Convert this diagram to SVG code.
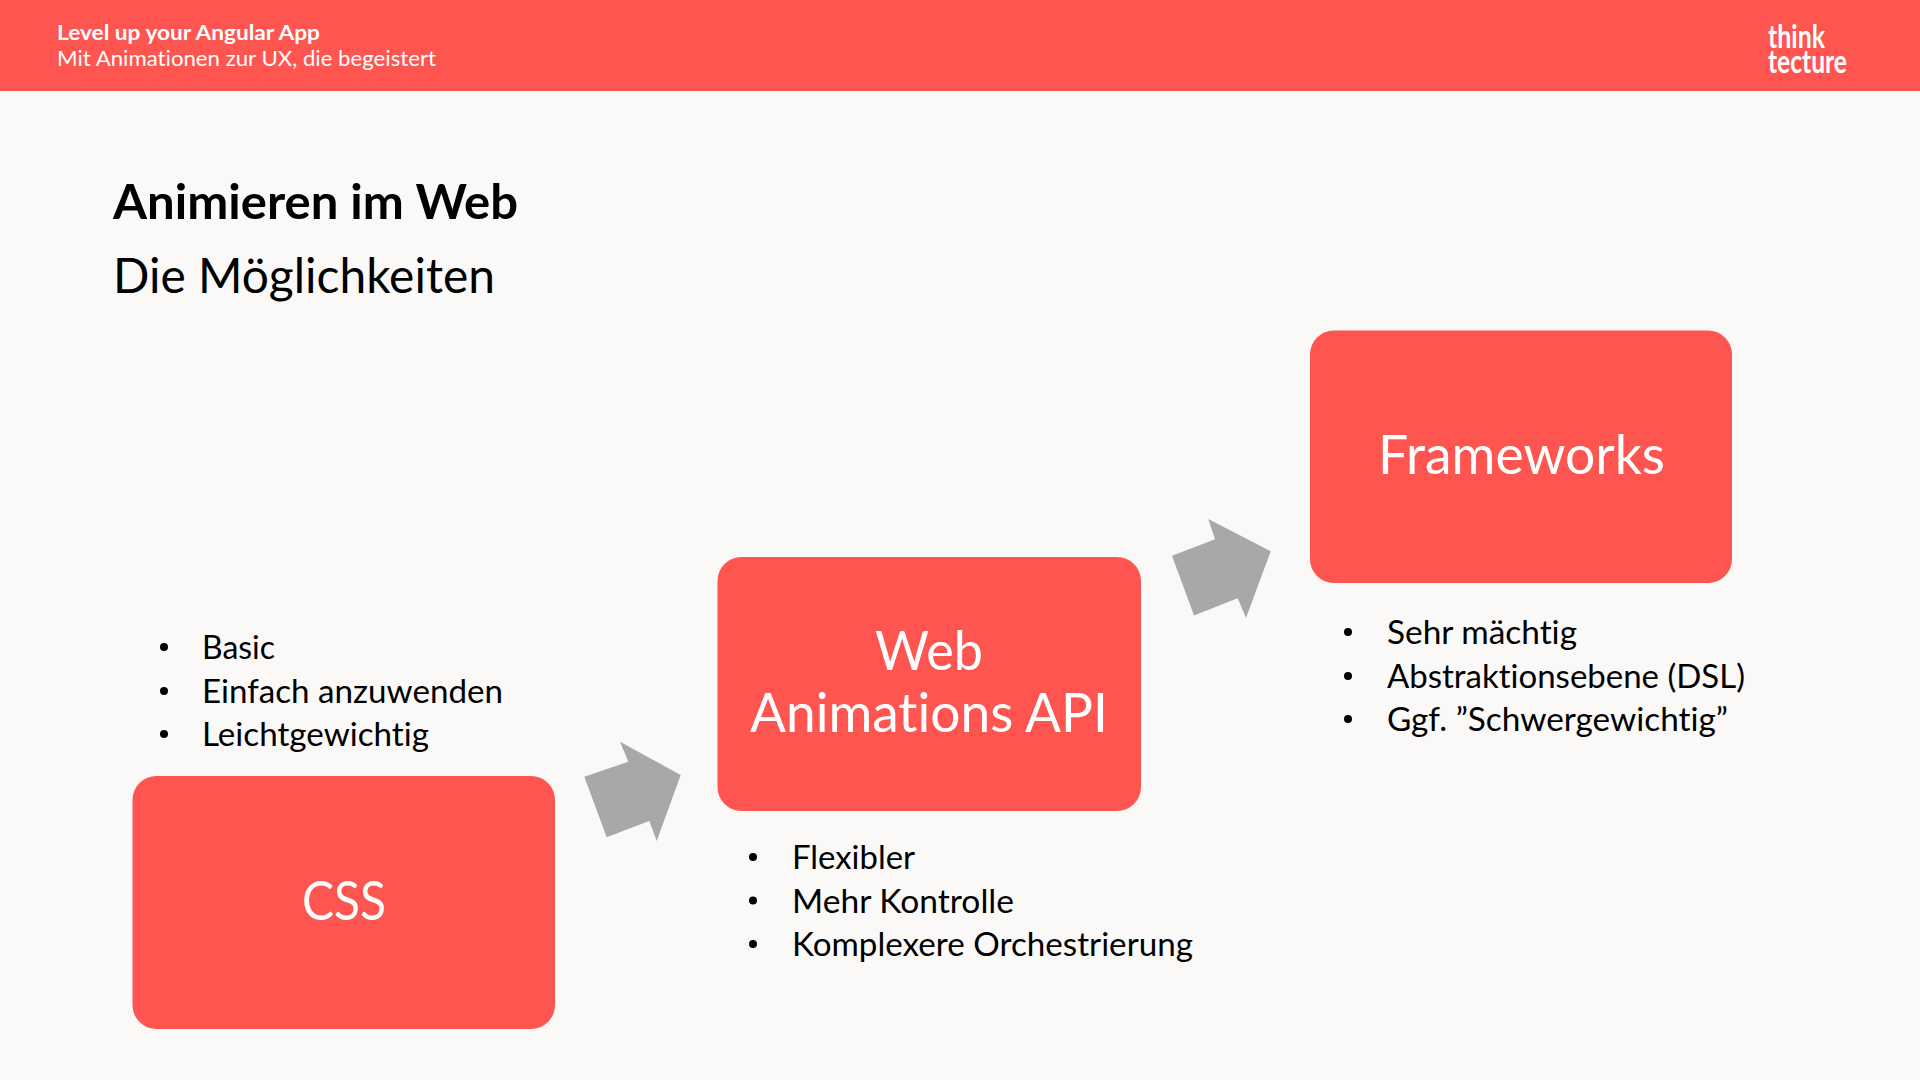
<svg xmlns="http://www.w3.org/2000/svg" width="1920" height="1080" viewBox="0 0 1920 1080">
<style>
text{font-family:"Lato","Open Sans","Liberation Sans",sans-serif;font-variant-ligatures:none}
.box{fill:#ff5550}
.arrow{fill:#a8a8a8}
.label{fill:#fff;font-size:54px;text-anchor:middle}
.item{fill:#000;font-size:32px}
.logo{fill:#fff;font-size:32px;font-weight:700}
</style>
<rect width="1920" height="1080" fill="#faf9f7"/>
<rect width="1920" height="91" fill="#ff5550"/>
<text x="57" y="40" fill="#fff" font-size="21.5" font-weight="700" textLength="263" lengthAdjust="spacingAndGlyphs">Level up your Angular App</text>
<text x="57" y="66" fill="#fff" font-size="21.5" textLength="379" lengthAdjust="spacingAndGlyphs">Mit Animationen zur UX, die begeistert</text>
<text x="1768" y="48" class="logo" textLength="57" lengthAdjust="spacingAndGlyphs">think</text>
<text x="1768" y="73" class="logo" textLength="79" lengthAdjust="spacingAndGlyphs">tecture</text>
<text x="113" y="219" fill="#000" font-size="48" font-weight="700" textLength="405" lengthAdjust="spacingAndGlyphs">Animieren im Web</text>
<text x="113" y="293" fill="#000" font-size="48" textLength="382" lengthAdjust="spacingAndGlyphs">Die Möglichkeiten</text>
<g id="connectors">
<polygon class="arrow" points="584.3,776.7 628.3,761.7 620,741.7 680.7,775 656.7,841 649.3,821 606.7,837.200"/>
<polygon class="arrow" points="1172,555.7 1215,539.3 1208.3,519 1270.7,551.3 1246,618 1237.7,598.3 1194,615.500"/>
</g>
<g id="node-css">
<rect class="box" x="132.500" y="776" width="422.500" height="253" rx="24"/>
<text class="label" x="344" y="919.500" textLength="84" lengthAdjust="spacingAndGlyphs">CSS</text>
<g class="item">
<circle cx="164" cy="647" r="4"/><text x="202" y="659" textLength="73" lengthAdjust="spacingAndGlyphs">Basic</text>
<circle cx="164" cy="691" r="4"/><text x="202" y="702.500" textLength="301" lengthAdjust="spacingAndGlyphs">Einfach anzuwenden</text>
<circle cx="164" cy="734" r="4"/><text x="202" y="746" textLength="227" lengthAdjust="spacingAndGlyphs">Leichtgewichtig</text>
</g>
</g>
<g id="node-waapi">
<rect class="box" x="717.500" y="557" width="423.500" height="254" rx="24"/>
<text class="label" x="929" y="669.500" textLength="108" lengthAdjust="spacingAndGlyphs">Web</text>
<text class="label" x="929" y="731.500" textLength="358" lengthAdjust="spacingAndGlyphs">Animations API</text>
<g class="item">
<circle cx="753" cy="857" r="4"/><text x="792" y="869" textLength="123" lengthAdjust="spacingAndGlyphs">Flexibler</text>
<circle cx="753" cy="900.500" r="4"/><text x="792" y="912.500" textLength="222" lengthAdjust="spacingAndGlyphs">Mehr Kontrolle</text>
<circle cx="753" cy="944" r="4"/><text x="792" y="956" textLength="401" lengthAdjust="spacingAndGlyphs">Komplexere Orchestrierung</text>
</g>
</g>
<g id="node-frameworks">
<rect class="box" x="1310" y="330.500" width="422" height="252.500" rx="24"/>
<text class="label" x="1521.500" y="473.500" textLength="287" lengthAdjust="spacingAndGlyphs">Frameworks</text>
<g class="item">
<circle cx="1348" cy="632" r="4"/><text x="1387" y="644" textLength="190" lengthAdjust="spacingAndGlyphs">Sehr mächtig</text>
<circle cx="1348" cy="676" r="4"/><text x="1387" y="688" textLength="358" lengthAdjust="spacingAndGlyphs">Abstraktionsebene (DSL)</text>
<circle cx="1348" cy="719" r="4"/><text x="1387" y="731" textLength="341" lengthAdjust="spacingAndGlyphs">Ggf. ”Schwergewichtig”</text>
</g>
</g>
</svg>
